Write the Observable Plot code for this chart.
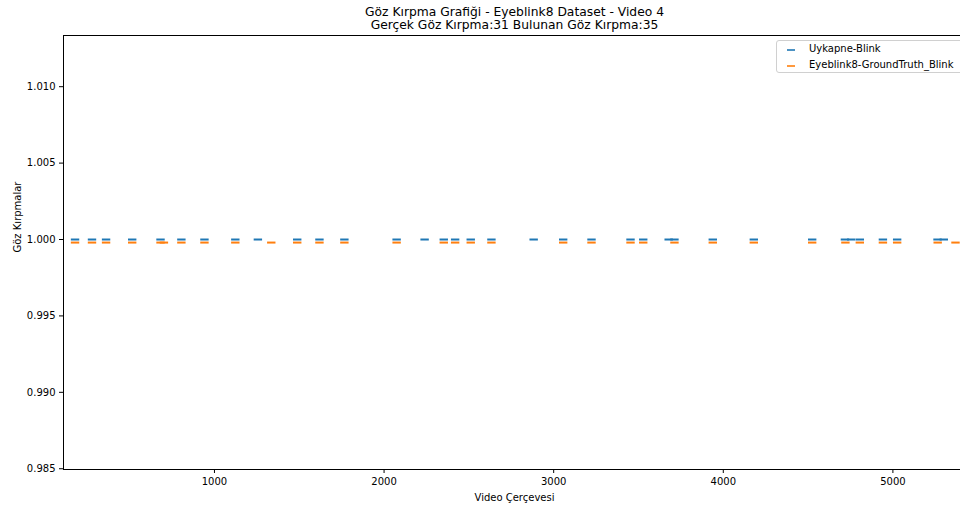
<!DOCTYPE html>
<html>
<head>
<meta charset="utf-8">
<script src="https://cdn.jsdelivr.net/npm/d3@7"></script>
<script src="https://cdn.jsdelivr.net/npm/@observablehq/plot@0.6"></script>
<style>
  html, body { margin: 0; padding: 0; background: #fff; overflow: hidden; width: 960px; height: 505px; }
  #chart { position: relative; width: 960px; height: 505px; overflow: hidden; }
  #legend { position: absolute; left: 776px; top: 40px; width: 200px; height: 33px; border: 1px solid #d0d0d0; border-radius: 3px; background: rgba(255,255,255,0.8); font-family: "DejaVu Sans", sans-serif; font-size: 10px; color: #000; box-sizing: border-box; }
  .item { position: absolute; left: 32px; }
  .sw { position: absolute; left: -22px; top: 6px; width: 8px; height: 1.5px; opacity: 0.8; }
</style>
</head>
<body>
<div id="chart">
  <div id="legend">
    <div class="item" style="top:2px"><span class="sw" style="background:#1f77b4"></span>Uykapne-Blink</div>
    <div class="item" style="top:18px"><span class="sw" style="background:#ff7f0e"></span>Eyeblink8-GroundTruth_Blink</div>
  </div>
</div>
<script>
// Detected blinks (Uykapne-Blink), frame numbers
const uykapneFrames = [178, 278, 361, 515, 682, 805, 941, 1123, 1256, 1488, 1619, 1766,
  2074, 2239, 2352, 2419, 2511, 2633, 2882, 3056, 3223, 3453, 3528, 3678, 3712,
  3938, 4180, 4524, 4717, 4754, 4805, 4941, 5025, 5263, 5300];
const uykapneValue = 1.0;
// Ground truth blinks (Eyeblink8-GroundTruth_Blink), frame numbers
const groundTruthFrames = [178, 278, 361, 515, 682, 702, 805, 941, 1123, 1335, 1488, 1619, 1766,
  2074, 2352, 2419, 2511, 2633, 3056, 3223, 3453, 3528, 3712,
  3938, 4180, 4524, 4720, 4805, 4941, 5025, 5264, 5369];
const groundTruthValue = 0.9998;
const xTicks = [1000, 2000, 3000, 4000, 5000];
const yTicks = [0.985, 0.990, 0.995, 1.000, 1.005, 1.010];
const titleLines = ["Göz Kırpma Grafiği - Eyeblink8 Dataset - Video 4", "Gerçek Göz Kırpma:31 Bulunan Göz Kırpma:35"];
const xLabel = "Video Çerçevesi";
const yLabel = "Göz Kırpmalar";

const hline = {
  draw(context, size) {
    const r = Math.sqrt(size / Math.PI);
    context.moveTo(-r, 0);
    context.lineTo(r, 0);
  }
};

const uyk = uykapneFrames.map(f => ({frame: f, v: uykapneValue}));
const gt = groundTruthFrames.map(f => ({frame: f, v: groundTruthValue}));

const font = "DejaVu Sans, sans-serif";
const plot = Plot.plot({
  width: 965,
  height: 505,
  marginLeft: 63,
  marginRight: 0,
  marginTop: 35,
  marginBottom: 36,
  style: {fontFamily: font, fontSize: "10px", color: "#000", background: "transparent", overflow: "visible", maxWidth: "none"},
  x: {domain: [110, 5428]},
  y: {domain: [0.98495, 1.01335]},
  marks: [
    Plot.frame({stroke: "#000", strokeWidth: 1}),
    Plot.axisX({ticks: xTicks, tickSize: 4, tickPadding: 4, label: null, tickFormat: d => String(d), fontSize: 10}),
    Plot.axisY({ticks: yTicks, tickSize: 4, tickPadding: 4, label: null, tickFormat: d3.format(".3f"), fontSize: 10}),
    Plot.dot(uyk, {x: "frame", y: "v", symbol: hline, r: 4.2, stroke: "#1f77b4", strokeWidth: 2}),
    Plot.dot(gt, {x: "frame", y: "v", symbol: hline, r: 4.2, stroke: "#ff7f0e", strokeWidth: 2}),
    Plot.text([titleLines[0]], {frameAnchor: "top", lineAnchor: "middle", dy: -23, fontSize: 12.3, fill: "#000"}),
    Plot.text([titleLines[1]], {frameAnchor: "top", lineAnchor: "middle", dy: -10, fontSize: 12.3, fill: "#000"}),
    Plot.text([xLabel], {frameAnchor: "bottom", lineAnchor: "middle", dy: 28, fontSize: 10, fill: "#000"}),
    Plot.text([yLabel], {frameAnchor: "left", dx: -46, rotate: -90, fontSize: 10, fill: "#000"})
  ]
});
plot.style.maxWidth = "none";
const chart = document.getElementById("chart");
chart.insertBefore(plot, chart.firstChild);
plot.style.position = "absolute";
plot.style.left = "0px";
plot.style.top = "0px";
</script>
</body>
</html>
